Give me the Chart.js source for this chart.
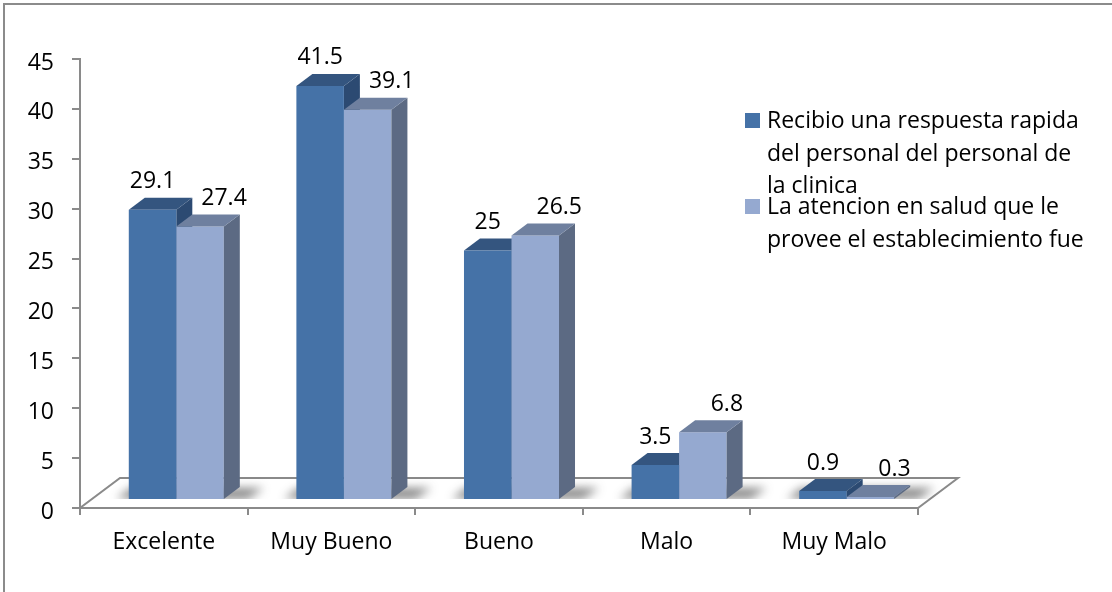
<!DOCTYPE html>
<html>
<head>
<meta charset="utf-8">
<title>Calidad de la atencion</title>
<script src="https://cdn.jsdelivr.net/npm/chart.js@4/dist/chart.umd.min.js"></script>
<style>
  html, body { margin: 0; padding: 0; background: #ffffff; }
  #wrap { position: relative; width: 1112px; height: 592px; overflow: hidden; }
  canvas { display: block; }
</style>
</head>
<body>
<div id="wrap"><canvas id="chart" width="1112" height="592"></canvas></div>
<script>
// ---- data ----
const categories = ['Excelente', 'Muy Bueno', 'Bueno', 'Malo', 'Muy Malo'];
const seriesNames = [
  ['Recibio una respuesta rapida', 'del personal del personal de', 'la clinica'],
  ['La atencion en salud que le', 'provee el establecimiento fue']
];
const respuestaRapida = [29.1, 41.5, 25, 3.5, 0.9];
const atencionSalud = [27.4, 39.1, 26.5, 6.8, 0.3];
const yTickValues = [0, 5, 10, 15, 20, 25, 30, 35, 40, 45];

// ---- look ----
const FONT = '"Open Sans", "Noto Sans", sans-serif';
const FONT_SIZE = 23;
const AXIS_GRAY = '#8a8a8a';
const faces = [
  { front: '#4572A7', top: '#34557F', side: '#2C4A72' },
  { front: '#95A9D0', top: '#6F809F', side: '#5C6A83' }
];
const DEPTH_X = 16, DEPTH_Y = -12;     // bar depth
const FLOOR_X = 40, FLOOR_Y = -30;     // floor depth
const SHIFT_X = 12.5, SHIFT_Y = -8;    // bars sit inside the floor

function barEdges(el) {
  const w = el.width;
  return { l: el.x - w / 2, r: el.x + w / 2, t: el.y, b: el.base };
}

function drawTop(ctx, el, color) {
  const e = barEdges(el);
  ctx.fillStyle = color;
  ctx.beginPath();
  ctx.moveTo(e.l, e.t);
  ctx.lineTo(e.r, e.t);
  ctx.lineTo(e.r + DEPTH_X, e.t + DEPTH_Y);
  ctx.lineTo(e.l + DEPTH_X, e.t + DEPTH_Y);
  ctx.closePath();
  ctx.fill();
}

function drawSide(ctx, el, color) {
  const e = barEdges(el);
  ctx.fillStyle = color;
  ctx.beginPath();
  ctx.moveTo(e.r, e.t);
  ctx.lineTo(e.r + DEPTH_X, e.t + DEPTH_Y);
  ctx.lineTo(e.r + DEPTH_X, e.b + DEPTH_Y);
  ctx.lineTo(e.r, e.b);
  ctx.closePath();
  ctx.fill();
}

const bars3d = {
  id: 'bars3d',
  beforeDraw(chart) {
    const ctx = chart.ctx;
    ctx.save();
    ctx.strokeStyle = '#8b8b8b';
    ctx.lineWidth = 2;
    ctx.strokeRect(4, 4, chart.width + 40, chart.height + 40);
    ctx.restore();
  },
  beforeDatasetsDraw(chart) {
    const ctx = chart.ctx;
    const a = chart.chartArea;
    // floor of the plot
    ctx.save();
    ctx.beginPath();
    ctx.moveTo(a.left, a.bottom);
    ctx.lineTo(a.right, a.bottom);
    ctx.lineTo(a.right + FLOOR_X, a.bottom + FLOOR_Y);
    ctx.lineTo(a.left + FLOOR_X, a.bottom + FLOOR_Y);
    ctx.closePath();
    ctx.fillStyle = '#ffffff';
    ctx.fill();
    ctx.strokeStyle = AXIS_GRAY;
    ctx.lineWidth = 2;
    ctx.stroke();
    ctx.restore();

    ctx.save();
    ctx.translate(SHIFT_X, SHIFT_Y);
    const m0 = chart.getDatasetMeta(0).data;
    const m1 = chart.getDatasetMeta(1).data;

    // soft shadows on the floor
    ctx.save();
    ctx.beginPath();
    ctx.rect(a.left, a.top - 40, a.right - a.left + 80, m0[0].base - a.top + 40);
    ctx.clip();
    ctx.filter = 'blur(5px)';
    ctx.fillStyle = 'rgba(40,40,40,0.55)';
    m0.forEach((el, i) => {
      const l = barEdges(el).l, r = barEdges(m1[i]).r, b = el.base;
      ctx.beginPath();
      ctx.moveTo(l - 12, b);
      ctx.lineTo(r + 24, b);
      ctx.lineTo(r + DEPTH_X + 24, b + DEPTH_Y + 1);
      ctx.lineTo(l + 2, b + DEPTH_Y + 1);
      ctx.closePath();
      ctx.fill();
    });
    ctx.restore();

    // back pieces of the first series (partly hidden by the second)
    m0.forEach(el => {
      drawSide(ctx, el, faces[0].side);
      drawTop(ctx, el, faces[0].top);
    });
  },
  afterDatasetsDraw(chart) {
    const ctx = chart.ctx;
    const m1 = chart.getDatasetMeta(1).data;
    m1.forEach(el => {
      drawSide(ctx, el, faces[1].side);
      drawTop(ctx, el, faces[1].top);
    });

    // value labels
    ctx.font = FONT_SIZE + 'px ' + FONT;
    ctx.fillStyle = '#000000';
    ctx.textAlign = 'center';
    ctx.textBaseline = 'middle';
    chart.data.datasets.forEach((ds, di) => {
      const meta = chart.getDatasetMeta(di).data;
      meta.forEach((el, i) => {
        const dx = di === 0 ? 0 : 24;
        ctx.fillText(String(ds.data[i]), el.x + dx, el.y - 28);
      });
    });
    ctx.restore();
  },
  afterDraw(chart) {
    // legend with wrapped series names
    const ctx = chart.ctx;
    ctx.save();
    ctx.font = FONT_SIZE + 'px ' + FONT;
    ctx.textAlign = 'left';
    ctx.textBaseline = 'alphabetic';
    const x = 745, lineGap = 32.5, itemGap = 86;
    let base = 128;
    chart.data.datasets.forEach((ds, di) => {
      ctx.fillStyle = faces[di].front;
      ctx.fillRect(x, base - 15, 15, 15);
      ctx.fillStyle = '#000000';
      ds.label.forEach((line, li) => ctx.fillText(line, x + 22, base + li * lineGap));
      base += itemGap;
    });
    ctx.restore();
  }
};

function build() {
  new Chart(document.getElementById('chart'), {
    type: 'bar',
    data: {
      labels: categories,
      datasets: [
        { label: seriesNames[0], data: respuestaRapida, backgroundColor: faces[0].front,
          borderWidth: 0, categoryPercentage: 0.567, barPercentage: 1.0 },
        { label: seriesNames[1], data: atencionSalud, backgroundColor: faces[1].front,
          borderWidth: 0, categoryPercentage: 0.567, barPercentage: 1.0 }
      ]
    },
    options: {
      responsive: false,
      animation: false,
      events: [],
      layout: { padding: { top: 59, right: 194, bottom: 0, left: 0 } },
      plugins: { legend: { display: false }, tooltip: { enabled: false } },
      scales: {
        x: {
          offset: true,
          afterFit(scale) { scale.height = 84; },
          grid: { drawOnChartArea: false, drawTicks: true, tickLength: 7,
                  color: AXIS_GRAY, lineWidth: 2, offset: true },
          border: { display: true, color: AXIS_GRAY, width: 2 },
          ticks: { color: '#000000', padding: 14, font: { family: FONT, size: FONT_SIZE } }
        },
        y: {
          min: 0, max: 45,
          afterFit(scale) { scale.width = 80; },
          afterBuildTicks(scale) { scale.ticks = yTickValues.map(v => ({ value: v })); },
          grid: { drawOnChartArea: false, drawTicks: true, tickLength: 8,
                  color: AXIS_GRAY, lineWidth: 2 },
          border: { display: true, color: AXIS_GRAY, width: 2 },
          ticks: { color: '#000000', padding: 18, labelOffset: 4,
                   font: { family: FONT, size: FONT_SIZE } }
        }
      }
    },
    plugins: [bars3d]
  });
}

if (document.fonts && document.fonts.load) {
  document.fonts.load(FONT_SIZE + 'px "Open Sans"').then(build, build);
} else {
  build();
}
</script>
</body>
</html>
